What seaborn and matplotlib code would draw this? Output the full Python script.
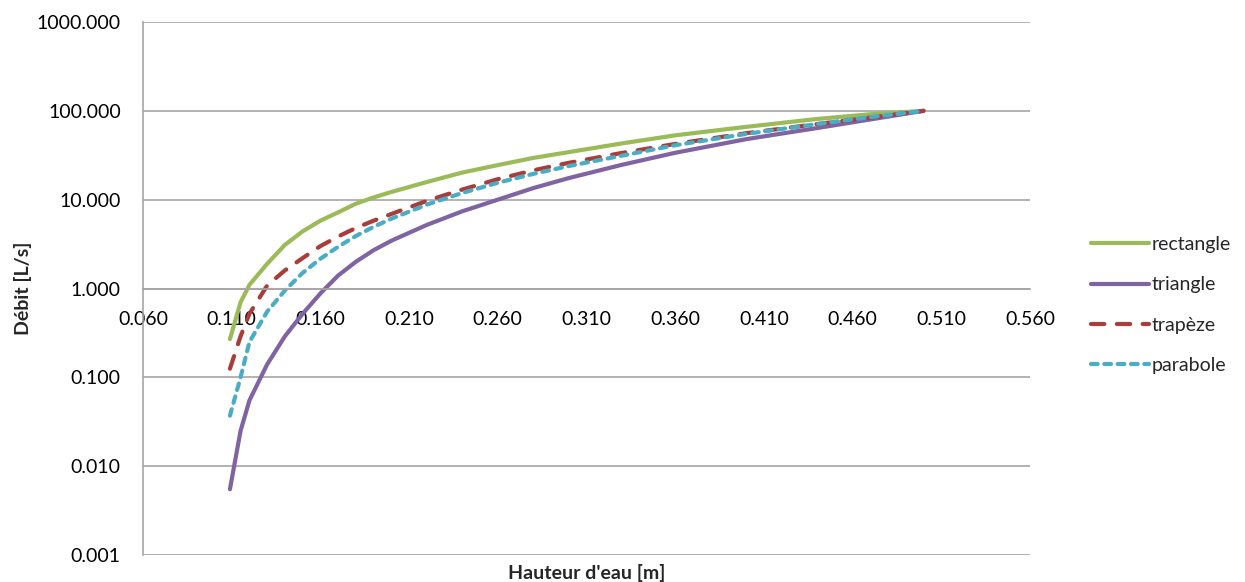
import matplotlib
matplotlib.use("Agg")
import matplotlib.pyplot as plt
from matplotlib.ticker import FuncFormatter, FixedLocator, NullLocator
import seaborn as sns
import numpy as np
import pandas as pd

# water height [m] and flow [L/s]
hauteur = [0.109, 0.115, 0.12, 0.13, 0.14, 0.15, 0.16, 0.17, 0.18, 0.19, 0.20,
           0.22, 0.24, 0.26, 0.28, 0.30, 0.33, 0.36, 0.40, 0.44, 0.47, 0.50]
rectangle = [0.27, 0.70, 1.1, 1.9, 3.1, 4.4, 5.8, 7.2, 9.0, 10.6, 12.2,
             15.8, 20.2, 24.5, 29.5, 34.3, 43, 53, 66, 81, 91.5, 100]
triangle = [0.0055, 0.025, 0.055, 0.14, 0.29, 0.52, 0.88, 1.4, 2.0, 2.7, 3.45,
            5.2, 7.4, 10.0, 13.5, 17.5, 24.7, 33.7, 48, 64, 80, 100]
trapeze = [0.125, 0.29, 0.52, 1.08, 1.6, 2.2, 3.0, 3.85, 4.8, 5.8, 6.9,
           9.7, 13.0, 17.0, 21.4, 26.0, 33.6, 42.4, 56, 71, 84, 100]
parabole = [0.037, 0.10, 0.25, 0.55, 0.95, 1.5, 2.16, 2.95, 3.9, 4.95, 6.1,
            8.8, 11.9, 15.5, 19.5, 23.9, 31.3, 41, 55, 71, 85, 100]

series = {"rectangle": rectangle, "triangle": triangle,
          "trapèze": trapeze, "parabole": parabole}
colors = {"rectangle": "#9BBB59", "triangle": "#8064A2",
          "trapèze": "#A83D3A", "parabole": "#4BACC6"}
styles = {"rectangle": "-", "triangle": "-",
          "trapèze": (0, (3.2, 3.0)), "parabole": (0, (1.6, 1.6))}

sns.set_style("white")
plt.rcParams["font.family"] = ["Lato", "DejaVu Sans"]
plt.rcParams["font.size"] = 14

fig = plt.figure(figsize=(12.45, 5.82), dpi=100)
ax = fig.add_axes([143 / 1245, 1 - 555 / 582, (1030 - 143) / 1245, (555 - 22) / 582])

for name, vals in series.items():
    df = pd.DataFrame({"h": hauteur, "q": vals})
    sns.lineplot(data=df, x="h", y="q", ax=ax, color=colors[name],
                 linewidth=3.0, linestyle=styles[name], label=name)

for line in ax.lines:
    line.set_dash_capstyle("round")
    line.set_solid_capstyle("round")

ax.set_yscale("log")
ax.set_ylim(0.001, 1000)
ax.set_xlim(0.06, 0.56)
ax.yaxis.set_major_locator(FixedLocator([0.001, 0.01, 0.1, 1, 10, 100, 1000]))
ax.yaxis.set_minor_locator(NullLocator())
ax.yaxis.set_major_formatter(FuncFormatter(lambda v, p: f"{v:.3f}"))
ax.xaxis.set_major_locator(FixedLocator(np.round(np.arange(0.06, 0.561, 0.05), 3)))
ax.xaxis.set_major_formatter(FuncFormatter(lambda v, p: f"{v:.3f}"))

ax.grid(axis="y", color="#A6A6A6", linewidth=1.2)
ax.grid(axis="x", visible=False)
for s in ["top", "right"]:
    ax.spines[s].set_visible(False)
for s in ["left", "bottom"]:
    ax.spines[s].set_color("#A6A6A6")
    ax.spines[s].set_linewidth(1.2)
ax.spines["bottom"].set_position(("data", 1))

ax.tick_params(axis="both", which="major", length=5, width=1.2, color="#A6A6A6",
               labelcolor="black", labelsize=14, direction="out")
ax.tick_params(axis="y", pad=11)
ax.tick_params(axis="x", pad=11)

ax.set_xlabel("Hauteur d'eau [m]", fontweight="bold", fontsize=14)
ax.set_ylabel("Débit [L/s]", fontweight="bold", fontsize=14)
ax.xaxis.set_label_coords(0.5, -0.017)
ax.yaxis.set_label_coords(-0.125, 0.5)

ax.legend(loc="center left", bbox_to_anchor=(1081 / 1245, 1 - 305 / 582),
          bbox_transform=fig.transFigure, frameon=False, fontsize=14,
          handlelength=3.0, handletextpad=0.15, labelspacing=1.2, borderpad=0)

fig.savefig("out.png", dpi=100)
